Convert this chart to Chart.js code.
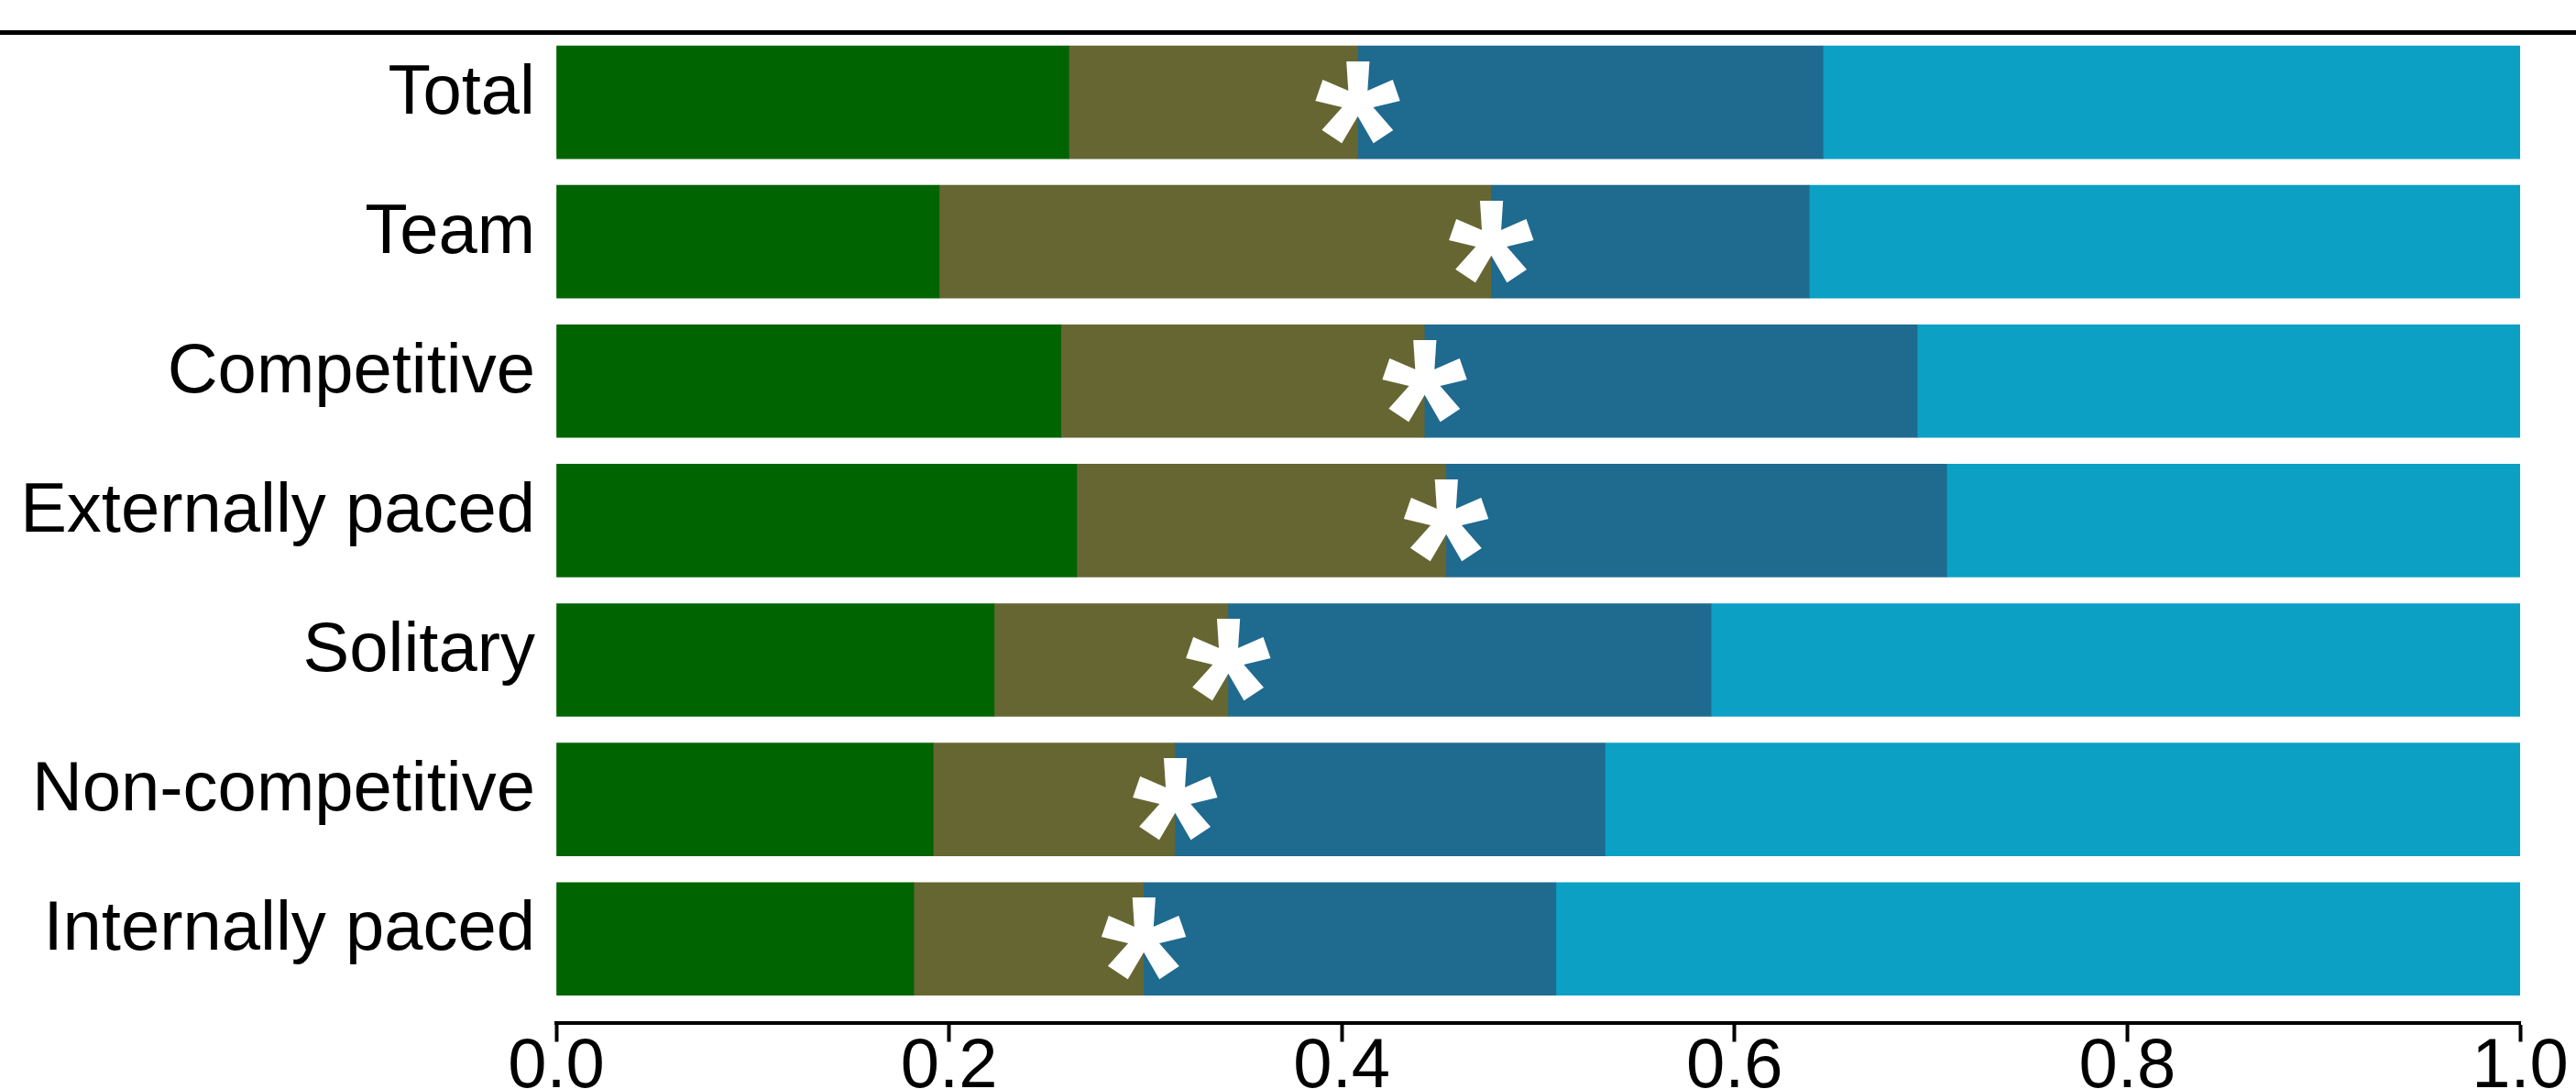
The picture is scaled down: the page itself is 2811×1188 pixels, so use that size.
<!DOCTYPE html>
<html>
<head>
<meta charset="utf-8">
<script src="https://cdn.jsdelivr.net/npm/chart.js@4.4.0/dist/chart.umd.min.js"></script>
<style>
  html, body { margin: 0; padding: 0; background: #fff; }
  #wrap { width: 2811px; height: 1188px; }
</style>
</head>
<body>
<div id="wrap"><canvas id="myChart" width="2811" height="1188"></canvas></div>
<script>
const categorias = ['Total', 'Team', 'Competitive', 'Externally paced', 'Solitary', 'Non-competitive', 'Internally paced'];

// segmentos de cada barra (proporciones, suman 1)
const seg1 = [0.261, 0.195, 0.257, 0.265, 0.223, 0.192, 0.182];
const seg2 = [0.147, 0.281, 0.185, 0.188, 0.119, 0.123, 0.117];
const seg3 = [0.237, 0.162, 0.251, 0.255, 0.246, 0.219, 0.210];
const seg4 = [0.355, 0.362, 0.307, 0.292, 0.412, 0.466, 0.491];

const xTicks = ['0.0', '0.2', '0.4', '0.6', '0.8', '1.0'];
// asterisco en el limite entre el segmento 2 y 3
const asterisco = [true, true, true, true, true, true, true];

const colores = ['#006400', '#666633', '#1f6a8f', '#0ca0c5'];

function puntos(valores) {
  return valores.map((v, i) => ({ x: v, y: i }));
}

// linea horizontal arriba del grafico
const lineaSuperior = {
  id: 'lineaSuperior',
  beforeDraw(chart) {
    const ctx = chart.ctx;
    ctx.save();
    ctx.strokeStyle = '#000';
    ctx.lineWidth = 5;
    ctx.beginPath();
    ctx.moveTo(0, 35.5);
    ctx.lineTo(chart.width, 35.5);
    ctx.stroke();
    ctx.restore();
  }
};

const asteriscos = {
  id: 'asteriscos',
  afterDatasetsDraw(chart) {
    const ctx = chart.ctx;
    const meta = chart.getDatasetMeta(1);
    ctx.save();
    ctx.fillStyle = '#fff';
    ctx.textAlign = 'left';
    ctx.textBaseline = 'alphabetic';
    ctx.font = 'bold 100px "Liberation Sans"';
    const m = ctx.measureText('*');
    const alto = m.actualBoundingBoxAscent + m.actualBoundingBoxDescent;
    const size = 100 * 91 / alto;
    ctx.font = 'bold ' + size + 'px "Liberation Sans"';
    const m2 = ctx.measureText('*');
    meta.data.forEach((bar, i) => {
      if (!asterisco[i]) return;
      const x = bar.x - (m2.actualBoundingBoxRight - m2.actualBoundingBoxLeft) / 2;
      const y = bar.y + (m2.actualBoundingBoxAscent - m2.actualBoundingBoxDescent) / 2;
      ctx.fillText('*', x, y);
    });
    ctx.restore();
  }
};

const ctx = document.getElementById('myChart');

new Chart(ctx, {
  type: 'bar',
  data: {
    datasets: [seg1, seg2, seg3, seg4].map((s, k) => ({
      label: 'seg' + (k + 1),
      data: puntos(s),
      backgroundColor: colores[k],
      borderWidth: 0,
      barThickness: 123
    }))
  },
  options: {
    indexAxis: 'y',
    responsive: false,
    devicePixelRatio: 1,
    animation: false,
    layout: { padding: { top: 35.5, right: 61, left: 0, bottom: 0 } },
    scales: {
      x: {
        type: 'linear',
        stacked: true,
        min: 0,
        max: 1,
        ticks: {
          stepSize: 0.2,
          color: '#000',
          font: { family: '"Liberation Sans", Arial', size: 76, lineHeight: 1 },
          padding: -9,
          maxRotation: 0,
          callback: (v, i) => xTicks[i]
        },
        grid: { drawOnChartArea: false, drawTicks: true, tickLength: 21, tickWidth: 4, tickColor: '#000' },
        border: { display: true, color: '#000', width: 4 },
        afterFit: s => { s.height = 72.5; s.paddingLeft = 0; s.paddingRight = 0; }
      },
      y: {
        type: 'linear',
        reverse: true,
        stacked: true,
        offset: false,
        min: -0.5,
        max: 6.6,
        ticks: {
          stepSize: 1,
          includeBounds: false,
          autoSkip: false,
          color: '#000',
          font: { family: '"Liberation Sans", Arial', size: 76, lineHeight: 1 },
          padding: 23,
          labelOffset: -9,
          callback: v => categorias[v] ?? ''
        },
        grid: { display: false, drawTicks: false },
        border: { display: false },
        afterFit: s => { s.width = 607; s.paddingTop = 0; s.paddingBottom = 0; }
      }
    },
    plugins: {
      legend: { display: false },
      tooltip: { enabled: false }
    }
  },
  plugins: [lineaSuperior, asteriscos]
});
</script>
</body>
</html>
